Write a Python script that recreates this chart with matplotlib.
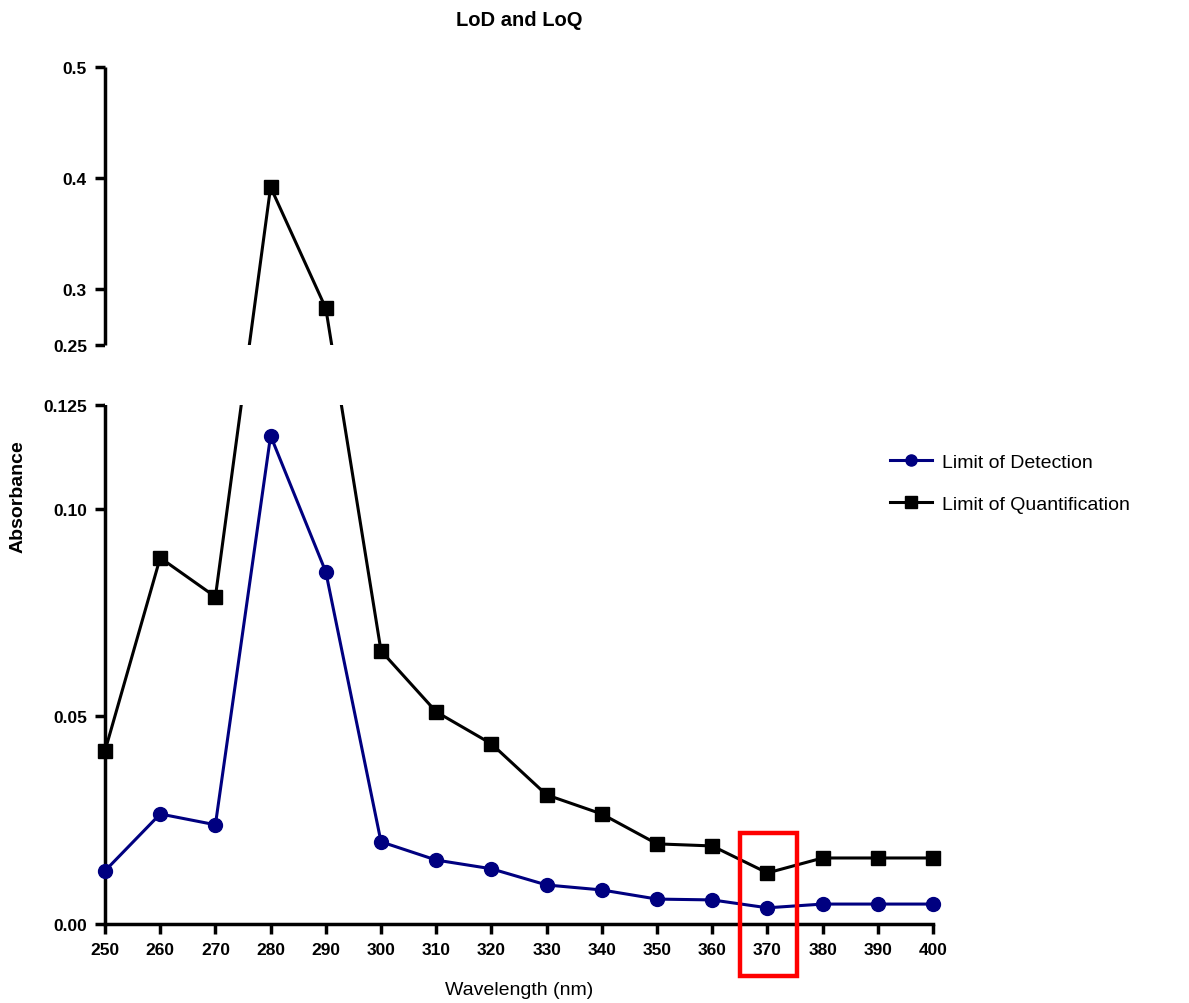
"""
LoD and LoQ versus wavelength, broken y axis
"""
import numpy as np
import matplotlib.pyplot as plt
from matplotlib.patches import Rectangle

wavelength = [250, 260, 270, 280, 290, 300, 310, 320, 330, 340, 350, 360, 370, 380, 390, 400]
lod = [0.0128, 0.0265, 0.0239, 0.1176, 0.0848, 0.0198, 0.0154, 0.0133, 0.0094, 0.0082,
       0.0060, 0.0058, 0.0039, 0.0048, 0.0048, 0.0048]
loq = [0.0417, 0.0882, 0.0788, 0.392, 0.283, 0.0658, 0.0511, 0.0434, 0.0311, 0.0265,
       0.0193, 0.0188, 0.0123, 0.0159, 0.0159, 0.0159]

x_ticks = list(range(250, 401, 10))
y_ticks = [0.0, 0.05, 0.10, 0.125, 0.25, 0.3, 0.4, 0.5]
y_labels = ["0.00", "0.05", "0.10", "0.125", "0.25", "0.3", "0.4", "0.5"]

plt.rcParams["font.family"] = ["Liberation Sans", "DejaVu Sans"]

# piecewise y scale: lower part 0-0.125, gap, upper part 0.25-0.5 (pixel heights)
LOW_H, GAP_H, HIGH_H = 519.0, 60.0, 278.0


def forward(v):
    v = np.asarray(v, dtype=float)
    return np.where(
        v <= 0.125,
        v / 0.125 * LOW_H,
        np.where(v <= 0.25,
                 LOW_H + (v - 0.125) / 0.125 * GAP_H,
                 LOW_H + GAP_H + (v - 0.25) / 0.25 * HIGH_H),
    )


def inverse(p):
    p = np.asarray(p, dtype=float)
    return np.where(
        p <= LOW_H,
        p / LOW_H * 0.125,
        np.where(p <= LOW_H + GAP_H,
                 0.125 + (p - LOW_H) / GAP_H * 0.125,
                 0.25 + (p - LOW_H - GAP_H) / HIGH_H * 0.25),
    )


W, H = 1189, 1004
fig = plt.figure(figsize=(W / 100, H / 100), dpi=100)
left, right = 105 / W, 933 / W
ax = fig.add_axes([left, 1 - 925 / H, right - left, (925 - 68) / H])
ax.set_yscale("function", functions=(forward, inverse))

navy = "#000080"
ax.plot(wavelength, lod, color=navy, lw=2.2, marker="o", ms=10,
        label="Limit of Detection", clip_on=False, zorder=3)
ax.plot(wavelength, loq, color="black", lw=2.2, marker="s", ms=10,
        label="Limit of Quantification", clip_on=False, zorder=3)

# blank out the break
ax.axhspan(0.125, 0.25, xmin=-0.02, xmax=1.0, color="white", zorder=4, lw=0)

ax.set_xlim(250, 400)
ax.set_ylim(0, 0.5)
for s in ("top", "right"):
    ax.spines[s].set_visible(False)
ax.spines["left"].set_bounds(0, 0.125)
ax.spines["left"].set_linewidth(2.5)
ax.spines["bottom"].set_linewidth(2.5)
ax.vlines(250, 0.25, 0.5, color="black", lw=2.5, clip_on=False, zorder=5)

ax.set_xticks(x_ticks)
ax.set_xticklabels([str(v) for v in x_ticks], fontweight="bold")
ax.set_yticks(y_ticks)
ax.set_yticklabels(y_labels, fontweight="bold")
ax.minorticks_off()
ax.tick_params(axis="both", direction="out", length=7, width=2.5,
               labelsize=12.5, pad=6)

fig.text(519 / W, 1 - 21 / H, "LoD and LoQ", ha="center", va="center",
         fontsize=14.5, fontweight="bold")
fig.text(18 / W, 1 - 497 / H, "Absorbance", ha="center", va="center",
         rotation=90, fontsize=14, fontweight="bold")
fig.text(519 / W, 1 - 991 / H, "Wavelength (nm)", ha="center", va="center",
         fontsize=14)

handles, labels = ax.get_legend_handles_labels()
fig.legend(handles, labels, loc="upper left", bbox_to_anchor=(872 / W, 1 - 437 / H),
           frameon=False, fontsize=14, markerscale=0.8, handlelength=2.2,
           handletextpad=0.5, labelspacing=1.25)

box = Rectangle((365, -0.0125), 10.4, 0.0344, fill=False, edgecolor="#ff0000",
                lw=3.2, clip_on=False, zorder=10)
ax.add_patch(box)

fig.savefig("out.png", dpi=100)
